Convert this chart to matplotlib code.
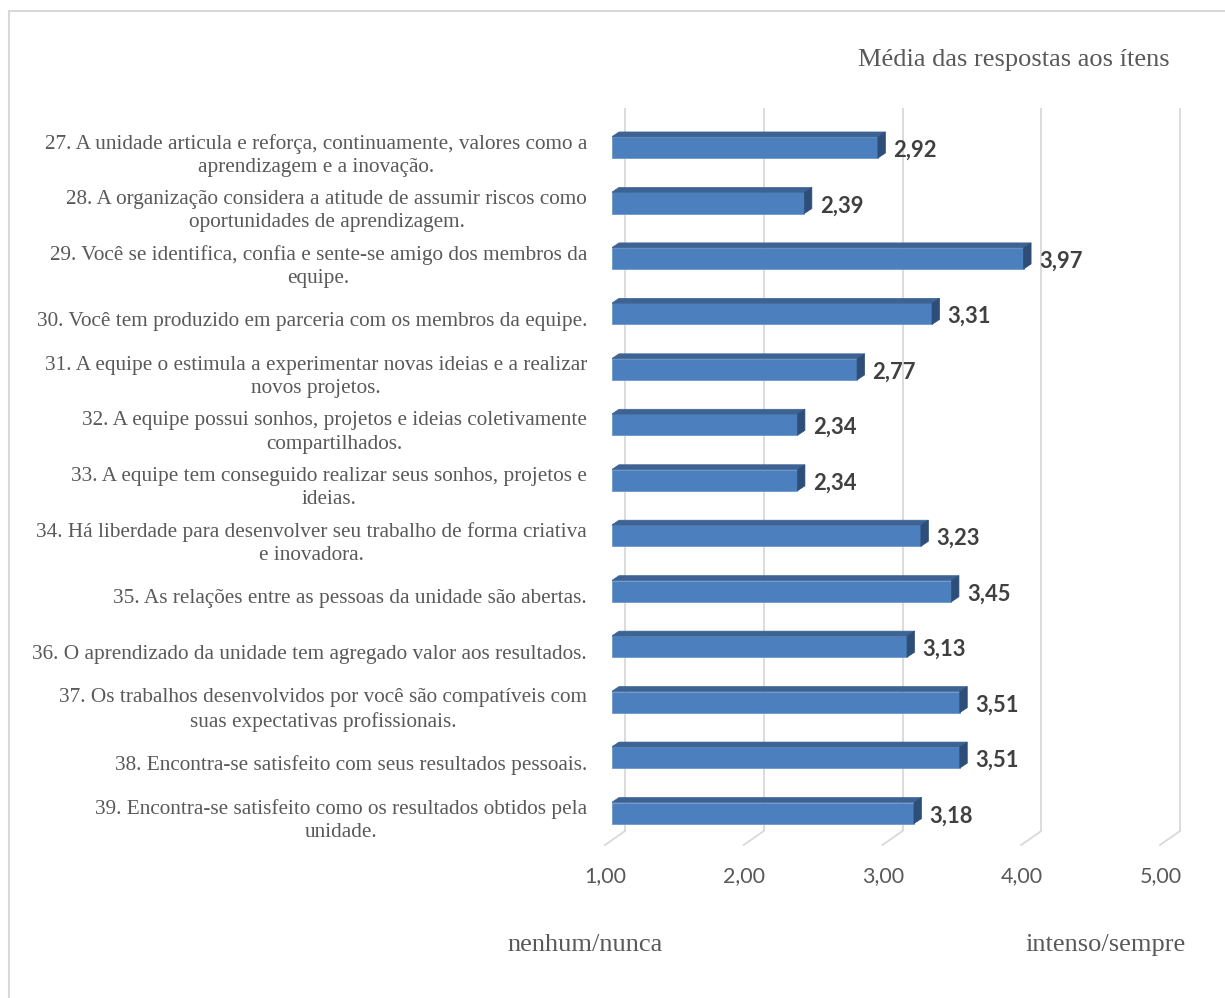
import matplotlib
matplotlib.use('Agg')
import matplotlib.pyplot as plt
from matplotlib.patches import Polygon, Rectangle

items = [
    '27. A unidade articula e reforça, continuamente, valores como a\naprendizagem e a inovação.',
    '28. A organização considera a atitude de assumir riscos como\noportunidades de aprendizagem.',
    '29. Você se identifica, confia e sente-se amigo dos membros da\nequipe.',
    '30. Você tem produzido em parceria com os membros da equipe.',
    '31. A equipe o estimula a experimentar novas ideias e a realizar\nnovos projetos.',
    '32. A equipe possui sonhos, projetos e ideias coletivamente\ncompartilhados.',
    '33. A equipe tem conseguido realizar seus sonhos, projetos e\nideias.',
    '34. Há liberdade para desenvolver seu trabalho de forma criativa\ne inovadora.',
    '35. As relações entre as pessoas da unidade são abertas.',
    '36. O aprendizado da unidade tem agregado valor aos resultados.',
    '37. Os trabalhos desenvolvidos por você são compatíveis com\nsuas expectativas profissionais.',
    '38. Encontra-se satisfeito com seus resultados pessoais.',
    '39. Encontra-se satisfeito como os resultados obtidos pela\nunidade.',
]
means = [2.92, 2.39, 3.97, 3.31, 2.77, 2.34, 2.34, 3.23, 3.45, 3.13, 3.51, 3.51, 3.18]
xticks = [1, 2, 3, 4, 5]
xtick_labels = ['1,00', '2,00', '3,00', '4,00', '5,00']

title = 'Média das respostas aos ítens'
low_label = 'nenhum/nunca'
high_label = 'intenso/sempre'

W, H = 1225, 998
TXT = '#595959'
FRONT = '#4b7fbd'
TOP = '#3d6394'
SIDE = '#2d4e78'
GRID = '#d9d9d9'

# plot area (front plane) in pixels
ax_l, ax_r, ax_t, ax_b = 611.5, 1166.5, 118, 845
XMIN, XMAX = 1, 5
YTOP, YBOT = -0.532, 12.576
px_x = (ax_r - ax_l) / (XMAX - XMIN)
px_y = (ax_b - ax_t) / (YBOT - YTOP)

fig = plt.figure(figsize=(W / 100, H / 100), dpi=100)
ax = fig.add_axes([ax_l / W, 1 - ax_b / H, (ax_r - ax_l) / W, (ax_b - ax_t) / H])
ax.set_xlim(XMIN, XMAX)
ax.set_ylim(YBOT, YTOP)
ax.axis('off')

# back-wall gridlines, each with a short floor diagonal
gdx, gdy = 13.5 / px_x, 14 / px_y
for k in xticks:
    ax.plot([k + gdx, k + gdx], [YBOT - gdy, YTOP - 10 / px_y], color=GRID, lw=1.3,
            clip_on=False, zorder=1, solid_capstyle='butt')
    ax.plot([k + gdx, k - 6.5 / px_x], [YBOT - gdy, YBOT], color=GRID, lw=1.3,
            clip_on=False, zorder=1)

# 3d-look bars: front face + top + side
bh = 0.38
bdx, bdy = 7.5 / px_x, 5 / px_y
for i, v in enumerate(means):
    y0, y1 = i - bh / 2, i + bh / 2
    ax.barh(i, v - XMIN, left=XMIN, height=bh, color=FRONT, edgecolor='#6d97cc',
            lw=0.6, zorder=3)
    ax.add_patch(Polygon([(XMIN, y0), (v, y0), (v + bdx, y0 - bdy), (XMIN + bdx, y0 - bdy)],
                         closed=True, facecolor=TOP, edgecolor=TOP, lw=0.5, zorder=3))
    ax.add_patch(Polygon([(v, y0), (v + bdx, y0 - bdy), (v + bdx, y1 - bdy), (v, y1)],
                         closed=True, facecolor=SIDE, edgecolor=SIDE, lw=0.5, zorder=3))
    ax.text(v + bdx + 8 / px_x, i + 0.05, f'{v:.2f}'.replace('.', ','),
            ha='left', va='center', fontsize=15.8, fontweight='bold',
            family='Lato', color='#404040', zorder=4)

# category labels
ytr = ax.get_yaxis_transform()
for i, lab in enumerate(items):
    ax.text((587 - ax_l) / (ax_r - ax_l), i + 0.14, lab, transform=ytr,
            ha='right', va='center', multialignment='center', fontsize=15.3,
            family='Liberation Serif', color=TXT, linespacing=1.3)

# value axis labels
xtr = ax.get_xaxis_transform()
for k, lab in zip(xticks, xtick_labels):
    ax.text(k - 6 / px_x, -(876 - ax_b) / (ax_b - ax_t), lab, transform=xtr,
            ha='center', va='center', fontsize=15.5, family='Lato', color=TXT)

fig.text(1170 / W, 1 - 60 / H, title, ha='right', va='center', fontsize=19,
         family='Liberation Serif', color=TXT)
fig.text(585 / W, 1 - 945 / H, low_label, ha='center', va='center', fontsize=19,
         family='Liberation Serif', color=TXT)
fig.text(1186 / W, 1 - 945 / H, high_label, ha='right', va='center', fontsize=19,
         family='Liberation Serif', color=TXT)

# chart border
fig.patches.append(Rectangle((9 / W, -0.1), 1.2, 1.1 - 11 / H, transform=fig.transFigure,
                             facecolor='none', edgecolor=GRID, lw=1.5))

fig.savefig('out.png', dpi=100)
